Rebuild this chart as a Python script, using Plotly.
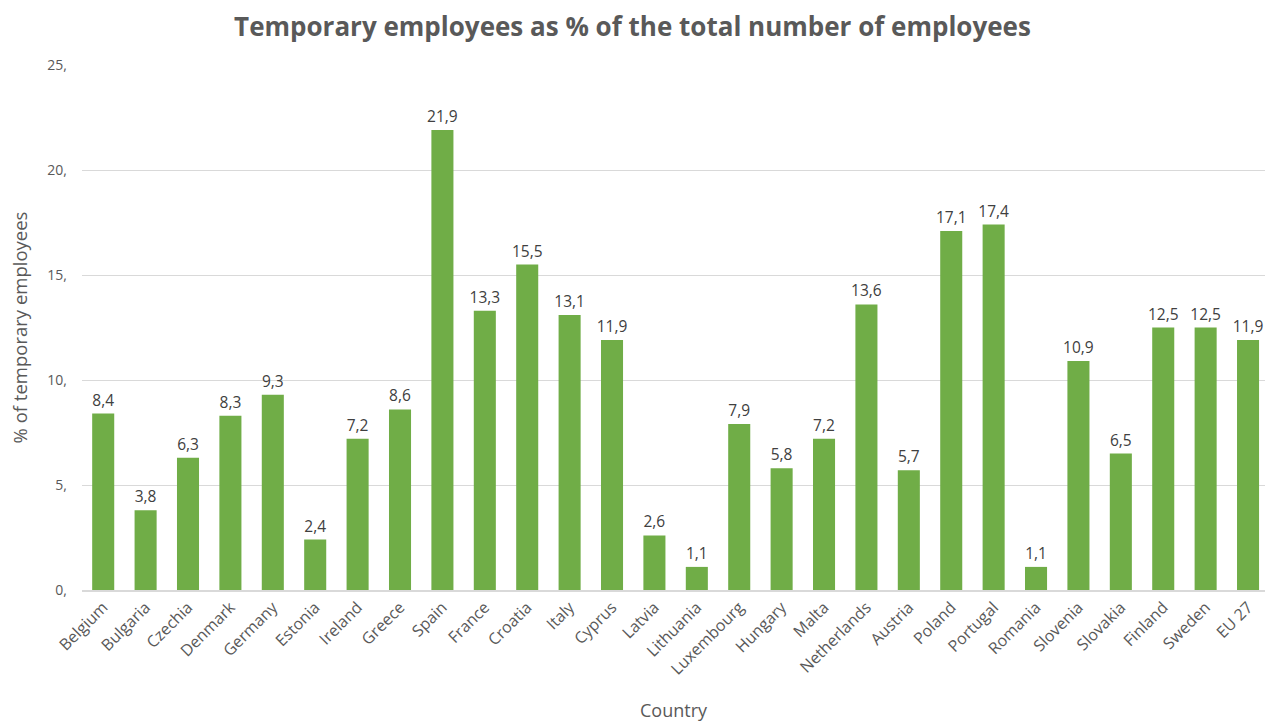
import plotly.graph_objects as go

countries = ["Belgium", "Bulgaria", "Czechia", "Denmark", "Germany", "Estonia", "Ireland",
             "Greece", "Spain", "France", "Croatia", "Italy", "Cyprus", "Latvia", "Lithuania",
             "Luxembourg", "Hungary", "Malta", "Netherlands", "Austria", "Poland", "Portugal",
             "Romania", "Slovenia", "Slovakia", "Finland", "Sweden", "EU 27"]
values = [8.4, 3.8, 6.3, 8.3, 9.3, 2.4, 7.2, 8.6, 21.9, 13.3, 15.5, 13.1, 11.9, 2.6, 1.1,
          7.9, 5.8, 7.2, 13.6, 5.7, 17.1, 17.4, 1.1, 10.9, 6.5, 12.5, 12.5, 11.9]
y_tickvals = [0, 5, 10, 15, 20, 25]
y_ticktext = ["0,", "5,", "10,", "15,", "20,", "25,"]

FONT = "Open Sans"

fig = go.Figure()
fig.add_trace(go.Bar(
    x=countries,
    y=values,
    marker=dict(color="#70ad47", line=dict(width=0)),
    text=[f"{v:.1f}".replace(".", ",") for v in values],
    textposition="outside",
    constraintext="none",
    textfont=dict(family=FONT, size=15.5, color="#404040"),
    cliponaxis=False,
))

fig.update_layout(
    width=1265, height=722,
    margin=dict(l=82, r=0, t=65, b=132),
    paper_bgcolor="white",
    plot_bgcolor="white",
    bargap=0.48,
    showlegend=False,
    title=dict(text="<b>Temporary employees as % of the total number of employees</b>",
               x=0.5, xanchor="center", y=0.963, yanchor="middle",
               font=dict(family=FONT, size=26, color="#595959")),
    xaxis=dict(
        range=[-0.5, 27.4],
        tickangle=-45,
        tickfont=dict(family=FONT, size=16, color="#595959"),
        showline=True, linecolor="#d9d9d9", linewidth=1.5,
        ticks="",
        title=dict(text="Country", font=dict(family=FONT, size=18, color="#595959"), standoff=28),
    ),
    yaxis=dict(
        range=[0, 25],
        tickvals=y_tickvals,
        ticktext=y_ticktext,
        tickfont=dict(family=FONT, size=14, color="#595959"),
        ticklabelstandoff=14,
        showgrid=True, gridcolor="#d9d9d9", gridwidth=1,
        zeroline=False,
        ticks="", ticklen=0,
        title=dict(text="% of temporary employees", font=dict(family=FONT, size=18.5, color="#595959"), standoff=14),
    ),
)

fig.write_html("out.html")
